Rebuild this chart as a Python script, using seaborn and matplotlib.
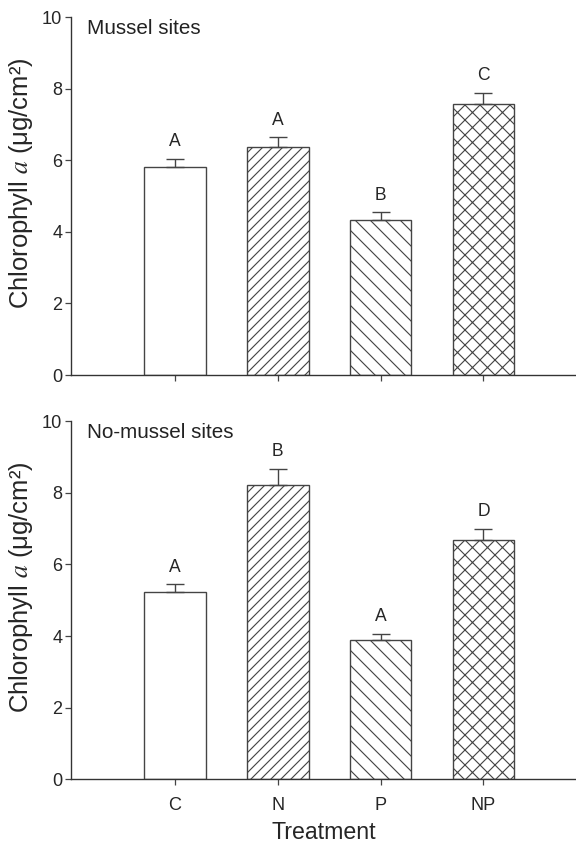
import numpy as np
import pandas as pd
import matplotlib
matplotlib.use("Agg")
import matplotlib.pyplot as plt
import seaborn as sns

# ---- data ----
treatments = ["C", "N", "P", "NP"]
mussel_mean = [5.80, 6.36, 4.32, 7.57]
mussel_se = [0.24, 0.28, 0.22, 0.31]
mussel_letters = ["A", "A", "B", "C"]
nomussel_mean = [5.23, 8.21, 3.90, 6.67]
nomussel_se = [0.21, 0.46, 0.16, 0.33]
nomussel_letters = ["A", "B", "A", "D"]
yticks = [0, 2, 4, 6, 8, 10]
hatches = ["", "///", "\\\\", "xx"]

sns.set_style("ticks")
plt.rcParams["font.family"] = ["Liberation Sans", "DejaVu Sans"]
plt.rcParams["mathtext.fontset"] = "stix"
plt.rcParams["hatch.linewidth"] = 0.9
plt.rcParams["hatch.color"] = "#333333"

edge = "#444444"
fig = plt.figure(figsize=(6.4, 9.4), dpi=90)
ax_top = fig.add_axes([0.1233, 0.5567, 0.8767, 0.4232])
ax_bot = fig.add_axes([0.1233, 0.0788, 0.8767, 0.4235])

panels = [
    (ax_top, mussel_mean, mussel_se, mussel_letters, "Mussel sites"),
    (ax_bot, nomussel_mean, nomussel_se, nomussel_letters, "No-mussel sites"),
]

for ax, means, ses, letters, title in panels:
    df = pd.DataFrame({"Treatment": treatments, "chl": means})
    sns.barplot(data=df, x="Treatment", y="chl", ax=ax, color="white",
                edgecolor=edge, linewidth=1.1, width=0.6, errorbar=None,
                order=treatments)
    for patch, h in zip(ax.patches, hatches):
        patch.set_hatch(h)
        patch.set_facecolor("white")
    xs = np.arange(len(treatments))
    ax.errorbar(xs, means, yerr=[np.zeros(len(ses)), ses], fmt="none",
                ecolor=edge, elinewidth=1.1, capsize=7, capthick=1.1,
                zorder=1)
    for x, m, s, lab in zip(xs, means, ses, letters):
        ax.annotate(lab, (x, m + s), xytext=(0, 7), textcoords="offset points",
                    ha="center", va="bottom", fontsize=14)
    ax.text(0.032, 0.995, title, transform=ax.transAxes, ha="left", va="top",
            fontsize=16.5, color="#222222")
    ax.set_ylim(0, 10)
    ax.set_yticks(yticks)
    ax.set_xlim(-1.01, 3.9)
    ax.set_ylabel("Chlorophyll $\\mathit{a}$ (μg/cm²)", fontsize=20.5)
    ax.yaxis.set_label_coords(-0.072, 0.535)
    ax.tick_params(axis="both", direction="out", length=5, width=1,
                   color=edge, labelsize=14.5)
    ax.tick_params(axis="y", pad=2)
    ax.tick_params(axis="x", pad=9)
    sns.despine(ax=ax)
    for sp in ["left", "bottom"]:
        ax.spines[sp].set_color("#333333")
        ax.spines[sp].set_linewidth(1.1)

ax_top.set_xlabel("")
ax_top.set_xticklabels([])
ax_bot.set_xlabel("Treatment", fontsize=18.5, labelpad=6)

fig.savefig("out.png", dpi=90)
